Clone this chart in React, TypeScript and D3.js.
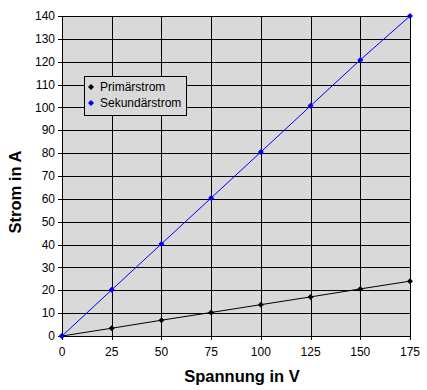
import React from 'react';
import { scaleLinear, line, range } from 'd3';

const voltage = [0, 25, 50, 75, 100, 125, 150, 175];
const primaer = [0, 3.4, 6.9, 10.3, 13.7, 17.1, 20.6, 24];
const sekundaer = [0, 20.2, 40.3, 60.4, 80.5, 100.7, 120.8, 140];
const seriesNames = ['Primärstrom', 'Sekundärstrom'];
const seriesColors = ['#000000', '#0000ff'];
const xTicks = range(0, 176, 25);
const yTicks = range(0, 141, 10);

const font = 'Arial, "Liberation Sans", sans-serif';

const Diamond: React.FC<{ x: number; y: number; color: string; r?: number }> = ({ x, y, color, r = 3 }) => (
  <path d={`M${x},${y - r}L${x + r},${y}L${x},${y + r}L${x - r},${y}Z`} fill={color} />
);

export default function App() {
  const width = 427;
  const height = 390;
  const left = 62, right = 410, top = 16, bottom = 336;

  const x = scaleLinear().domain([0, 175]).range([left, right]);
  const y = scaleLinear().domain([0, 140]).range([bottom, top]);

  const series = [primaer, sekundaer];
  const lineGen = line<number>()
    .x((_, i) => x(voltage[i]))
    .y(d => y(d));

  return (
    <svg width={width} height={height} style={{ position: 'absolute', left: 0, top: 0, background: '#fff' }}
      fontFamily={font}>
      <rect x={left} y={top} width={right - left} height={bottom - top} fill="#d9d9d9" />
      {/* grid */}
      {yTicks.map(t => (
        <line key={'gy' + t} x1={left - 4} x2={right} y1={Math.round(y(t)) + 0.5} y2={Math.round(y(t)) + 0.5}
          stroke="#000" strokeWidth={1} />
      ))}
      {xTicks.map(t => (
        <line key={'gx' + t} x1={Math.round(x(t)) + 0.5} x2={Math.round(x(t)) + 0.5} y1={top} y2={bottom + 4}
          stroke="#000" strokeWidth={1} />
      ))}
      <rect x={left + 0.5} y={top + 0.5} width={right - left} height={bottom - top} fill="none" stroke="#000" />

      {/* tick labels */}
      {yTicks.map(t => (
        <text key={'ty' + t} x={55} y={y(t)} dy="0.35em" textAnchor="end" fontSize={12} fill="#000">{t}</text>
      ))}
      {xTicks.map(t => (
        <text key={'tx' + t} x={x(t)} y={356} textAnchor="middle" fontSize={12} fill="#000">{t}</text>
      ))}

      {/* series */}
      {series.map((s, si) => (
        <g key={si}>
          <path d={lineGen(s) || ''} fill="none" stroke={seriesColors[si]} strokeWidth={1} />
          {s.map((v, i) => (
            <Diamond key={i} x={x(voltage[i])} y={y(v)} color={seriesColors[si]} />
          ))}
        </g>
      ))}

      {/* legend */}
      <rect x={84.5} y={76.5} width={102} height={39} fill="#d9d9d9" stroke="#000" />
      {seriesNames.map((n, i) => (
        <g key={n}>
          <Diamond x={91} y={87 + i * 16} color={seriesColors[i]} />
          <text x={100} y={87 + i * 16} dy="0.35em" fontSize={12} fill="#000">{n}</text>
        </g>
      ))}

      {/* axis titles */}
      <text x={242} y={382} textAnchor="middle" fontSize={16.5} fontWeight="bold" fill="#000">Spannung in V</text>
      <text transform={`translate(21,192) rotate(-90)`} textAnchor="middle" fontSize={16.5}
        fontWeight="bold" fill="#000">Strom in A</text>
    </svg>
  );
}
